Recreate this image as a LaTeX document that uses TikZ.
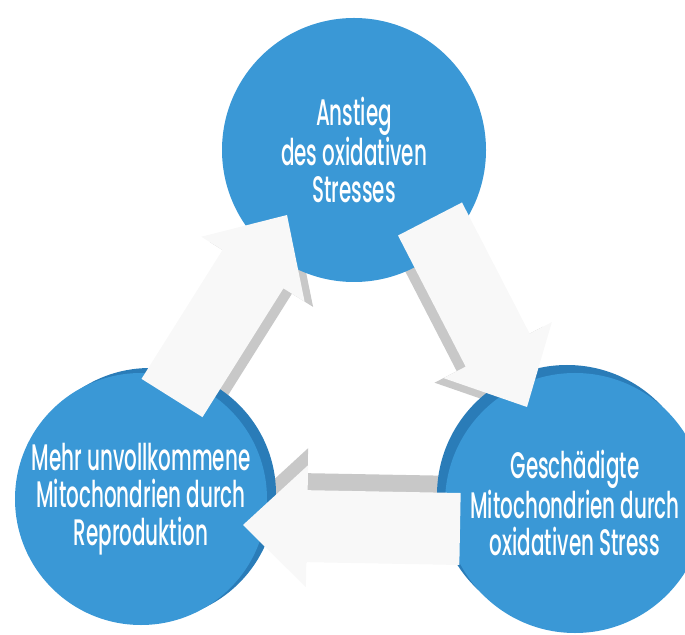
\documentclass[tikz,border=0pt]{standalone}
\usepackage{fontspec}
\setsansfont{Poppins}[UprightFont={* Medium}, FakeStretch=0.54]
\usetikzlibrary{calc}
\pgfdeclarelayer{background}
\pgfsetlayers{background,main}

\definecolor{cycleblue}{RGB}{58,152,214}
\definecolor{rimblue}{RGB}{42,124,184}
\definecolor{arrowside}{RGB}{200,200,200}
\definecolor{arrowface}{RGB}{248,248,248}

\tikzset{
  stage/.style={circle, fill=cycleblue, text=white, align=center,
    inner sep=0pt, font=\sffamily\fontsize{21}{21.2}\selectfont},
  face/.style={fill=arrowface},
  side/.style={fill=arrowside},
}

% flat block arrow from #2 to #3
\newcommand{\blockarrow}[3]{%
  \path[#1] ($(#2)!7.2mm!90:(#3)$)
    -- ($(#3)!12.8mm!(#2)!7.2mm!-90:(#2)$)
    -- ($(#3)!12.8mm!(#2)!12.2mm!-90:(#2)$)
    -- (#3)
    -- ($(#3)!12.8mm!(#2)!12.2mm!90:(#2)$)
    -- ($(#3)!12.8mm!(#2)!7.2mm!90:(#2)$)
    -- ($(#2)!7.2mm!-90:(#3)$) -- cycle;}

\begin{document}
\begin{tikzpicture}[x=0.2mm, y=-0.2mm]
  \clip (0,0) rectangle (685,635);

  \node[stage, minimum size=52.8mm] (stress) at (354,150)
    {Anstieg\\des oxidativen\\Stresses};
  \node[stage, minimum size=50.4mm] (repro) at (141,499)
    {Mehr unvollkommene\\Mitochondrien durch\\Reproduktion};
  \node[stage, minimum size=52mm] (damage) at (575,503)
    {Geschädigte\\Mitochondrien durch\\oxidativen Stress};

  % arrow ends
  \coordinate (a1s) at ($(repro)+(31,-101)$);
  \coordinate (a1e) at ($(stress)+(-67,65)$);
  \coordinate (a2s) at ($(stress)+(76,69)$);
  \coordinate (a2e) at ($(damage)+(-48,-96)$);
  \coordinate (a3s) at ($(damage)+(-115,26)$);
  \coordinate (a3e) at ($(repro)+(102,26)$);

  \begin{pgfonlayer}{background}
    \blockarrow{side, transform canvas={shift={(1.7mm,-1.06mm)}}}{a1s}{a1e}
    \blockarrow{side, transform canvas={shift={(-1.78mm,-0.92mm)}}}{a2s}{a2e}
    \blockarrow{side, transform canvas={shift={(0mm,3.4mm)}}}{a3s}{a3e}
    \fill[rimblue] (150,494) circle (126);
    \fill[rimblue] (567,495) circle (130);
  \end{pgfonlayer}

  \blockarrow{face}{a1s}{a1e}
  \blockarrow{face}{a2s}{a2e}
  \blockarrow{face}{a3s}{a3e}
\end{tikzpicture}
\end{document}
